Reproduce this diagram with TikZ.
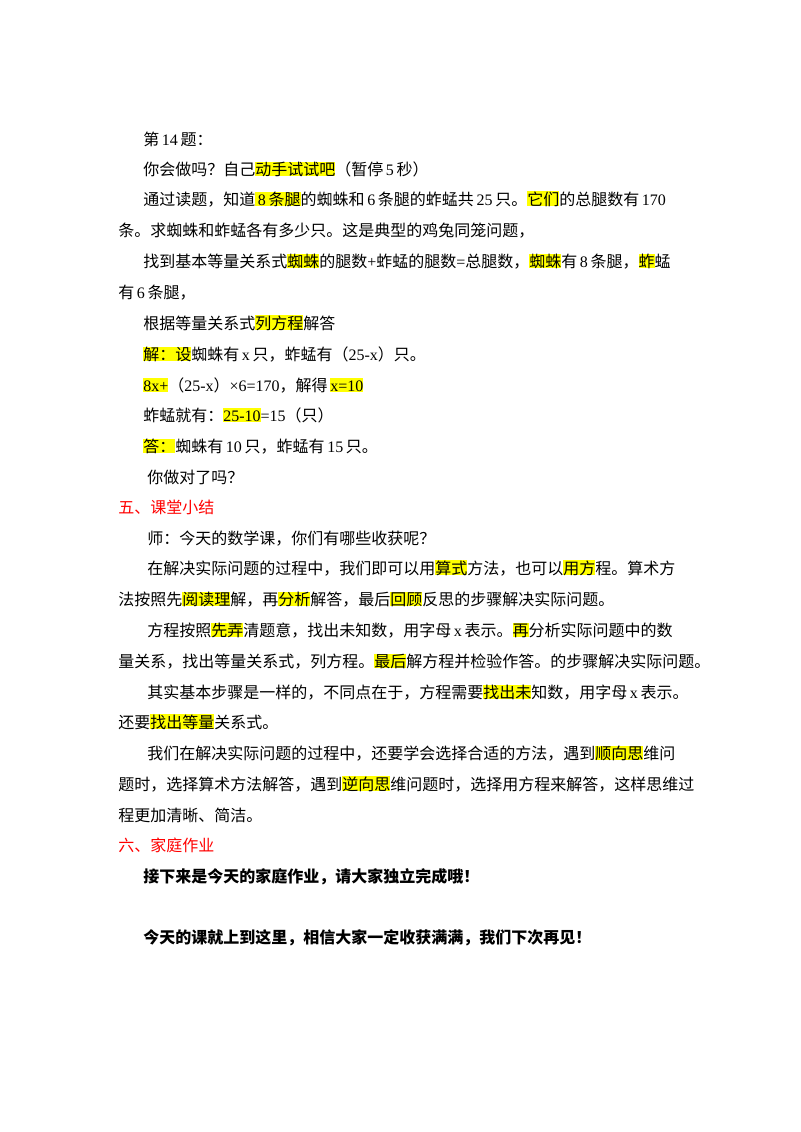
\documentclass[tikz,border=0pt]{standalone}
\usepackage{fontspec}
\setmainfont{Noto Sans CJK SC}
\newfontfamily\lat{Liberation Serif}
\definecolor{hlY}{RGB}{255,255,0}
\definecolor{headred}{RGB}{255,0,0}
\newcommand\hl[1]{{\setlength\fboxsep{0pt}\colorbox{hlY}{\vphantom{国}#1}}}
\newcommand\Lt[1]{{\lat\,#1\,}}
\begin{document}
\begin{tikzpicture}[x=0.75pt,y=-0.75pt,
  ln/.style={anchor=base west,inner sep=0pt,font=\fontsize{12}{14}\selectfont},
  hd/.style={ln,text=headred}]
\fill[white] (0,0) rectangle (800,1132);
\useasboundingbox (0,0) rectangle (800,1132);
\node[ln] (l1) at (143,145) {第\Lt{14}题：};
\node[ln] (l2) at (143,175) {你会做吗？自己\hl{动手试试吧}（暂停\Lt{5}秒）};
\node[ln] (l3) at (143,205) {通过读题，知道\hl{\Lt{8}条腿}的蜘蛛和\Lt{6}条腿的蚱蜢共\Lt{25}只。\hl{它们}的总腿数有\Lt{170}};
\node[ln] (l4) at (118,236) {条。求蜘蛛和蚱蜢各有多少只。这是典型的鸡兔同笼问题，};
\node[ln] (l5) at (143,267) {找到基本等量关系式\hl{蜘蛛}的腿数{\lat+}蚱蜢的腿数{\lat=}总腿数，\hl{蜘蛛}有\Lt{8}条腿，\hl{蚱}蜢};
\node[ln] (l6) at (118,298) {有\Lt{6}条腿，};
\node[ln] (l7) at (143,329) {根据等量关系式\hl{列方程}解答};
\node[ln] (l8) at (143,360) {\hl{解：设}蜘蛛有\Lt{x}只，蚱蜢有（{\lat 25-x}）只。};
\node[ln] (l9) at (143,391) {\hl{\lat 8x+}（{\lat 25-x}）{\lat ×6=170}，解得\,\hl{\lat x=10}};
\node[ln] (l10) at (143,421) {蚱蜢就有：\hl{\lat 25-10}{\lat =15}（只）};
\node[ln] (l11) at (143,452) {\hl{答：}蜘蛛有\Lt{10}只，蚱蜢有\Lt{15}只。};
\node[ln] (l12) at (147,483) {你做对了吗？};
\node[hd] (h5) at (118,513) {五、课堂小结};
\node[ln] (l13) at (147,544) {师：今天的数学课，你们有哪些收获呢？};
\node[ln] (l14) at (147,574) {在解决实际问题的过程中，我们即可以用\hl{算式}方法，也可以\hl{用方}程。算术方};
\node[ln] (l15) at (118,605) {法按照先\hl{阅读理}解，再\hl{分析}解答，最后\hl{回顾}反思的步骤解决实际问题。};
\node[ln] (l16) at (147,636) {方程按照\hl{先弄}清题意，找出未知数，用字母\Lt{x}表示。\hl{再}分析实际问题中的数};
\node[ln] (l17) at (118,667) {量关系，找出等量关系式，列方程。\hl{最后}解方程并检验作答。的步骤解决实际问题。};
\node[ln] (l18) at (147,698) {其实基本步骤是一样的，不同点在于，方程需要\hl{找出未}知数，用字母\Lt{x}表示。};
\node[ln] (l19) at (118,728) {还要\hl{找出等量}关系式。};
\node[ln] (l20) at (147,759) {我们在解决实际问题的过程中，还要学会选择合适的方法，遇到\hl{顺向思}维问};
\node[ln] (l21) at (118,790) {题时，选择算术方法解答，遇到\hl{逆向思}维问题时，选择用方程来解答，这样思维过};
\node[ln] (l22) at (118,821) {程更加清晰、简洁。};
\node[hd] (h6) at (118,851) {六、家庭作业};
\node[ln,font=\fontsize{12}{14}\selectfont\bfseries] (l23) at (143,882) {接下来是今天的家庭作业，请大家独立完成哦！};
\node[ln,font=\fontsize{12}{14}\selectfont\bfseries] (l24) at (143,943) {今天的课就上到这里，相信大家一定收获满满，我们下次再见！};
\end{tikzpicture}
\end{document}
